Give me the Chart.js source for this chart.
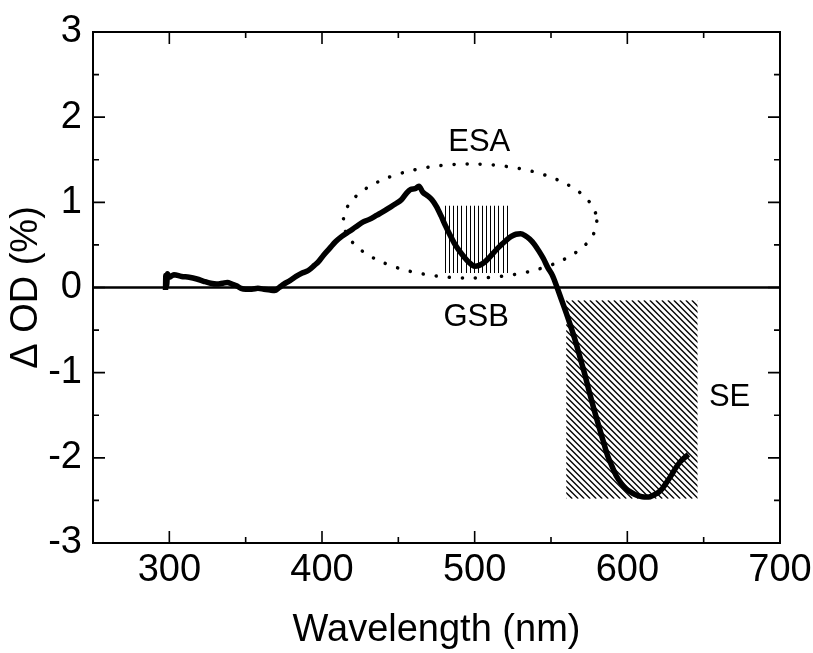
<!DOCTYPE html>
<html>
<head>
<meta charset="utf-8">
<script src="https://cdn.jsdelivr.net/npm/chart.js@4.4.1/dist/chart.umd.min.js"></script>
<style>
  html, body { margin: 0; padding: 0; background: #fff; }
  #wrap { width: 813px; height: 653px; }
</style>
</head>
<body>
<div id="wrap"><canvas id="canvas"></canvas></div>
<script>
// transient absorption spectrum
const wavelength = [297.5, 297.7, 298.2, 298.8, 300, 303, 308, 313, 318, 323, 327, 331, 335, 338, 341, 344, 347, 350, 354, 358, 362, 366, 369, 372, 375, 379, 383, 387, 391, 395, 398, 401, 405, 409, 413, 418, 422, 427, 431, 436, 440, 444, 448, 452, 455, 458, 461, 463.5, 466, 469, 472, 475, 478, 481, 484, 487, 490, 493, 496, 500, 503, 506, 509, 512, 515, 518, 521, 524, 527, 530, 533, 536, 539, 542, 545, 548, 551, 554, 557, 560, 563, 566, 569, 572, 575, 578, 581, 584, 587, 590, 593, 596, 599, 602, 605, 608, 611, 614, 617, 620, 623, 626, 629, 632, 635, 638, 640];
const deltaOD = [-0.03, 0.14, 0.02, 0.16, 0.12, 0.15, 0.13, 0.12, 0.10, 0.07, 0.05, 0.04, 0.05, 0.06, 0.04, 0.02, -0.01, -0.02, -0.02, -0.01, -0.02, -0.03, -0.035, 0.0, 0.04, 0.08, 0.13, 0.17, 0.20, 0.26, 0.31, 0.38, 0.46, 0.54, 0.60, 0.66, 0.71, 0.77, 0.80, 0.85, 0.89, 0.935, 0.98, 1.03, 1.10, 1.15, 1.16, 1.19, 1.12, 1.08, 1.03, 0.95, 0.84, 0.72, 0.61, 0.51, 0.43, 0.36, 0.30, 0.25, 0.26, 0.29, 0.34, 0.40, 0.46, 0.51, 0.56, 0.60, 0.625, 0.63, 0.61, 0.57, 0.51, 0.43, 0.34, 0.23, 0.14, 0.0, -0.15, -0.30, -0.46, -0.63, -0.82, -1.01, -1.22, -1.42, -1.61, -1.79, -1.97, -2.10, -2.22, -2.30, -2.36, -2.40, -2.43, -2.45, -2.46, -2.46, -2.44, -2.41, -2.36, -2.28, -2.20, -2.11, -2.04, -1.99, -1.96];

const zeroLineX = [250, 700];
const xTicks = [300, 400, 500, 600, 700];
const xMinor = [350, 450, 550, 650];
const yTicks = [-3, -2, -1, 0, 1, 2, 3];
const yMinor = [-2.5, -1.5, -0.5, 0.5, 1.5, 2.5];

// shaded regions in data units: [x0, x1, y0, y1]
const gsbBox = [480.5, 521, 0.17, 0.96];
const seBox = [560, 646, -2.48, -0.15];
// dotted ellipse: [cx, cy, rx, ry]
const esaEllipse = [497, 0.78, 83, 0.67];

const noteText = ['ESA', 'GSB', 'SE'];
const noteX = [503, 501, 667];
const noteY = [1.6, -0.45, -1.39];

const FONT = '"Liberation Sans", Arial, Helvetica, sans-serif';

const decor = {
  id: 'decor',
  beforeDatasetsDraw(chart) {
    const { ctx, scales: { x, y } } = chart;
    ctx.save();
    // GSB: vertical lines
    let x0 = x.getPixelForValue(gsbBox[0]), x1 = x.getPixelForValue(gsbBox[1]);
    let yt = y.getPixelForValue(gsbBox[3]), yb = y.getPixelForValue(gsbBox[2]);
    ctx.strokeStyle = '#000';
    ctx.lineWidth = 1;
    const n = 15;
    for (let i = 0; i <= n; i++) {
      const px = Math.round(x0 + (x1 - x0) * i / n) + 0.5;
      ctx.beginPath();
      ctx.moveTo(px, yt);
      ctx.lineTo(px, yb);
      ctx.stroke();
    }
    // SE: diagonal hatch
    x0 = x.getPixelForValue(seBox[0]); x1 = x.getPixelForValue(seBox[1]);
    yt = y.getPixelForValue(seBox[3]); yb = y.getPixelForValue(seBox[2]);
    ctx.beginPath();
    ctx.rect(x0, yt, x1 - x0, yb - yt);
    ctx.clip();
    ctx.lineWidth = 1.4;
    const h = yb - yt;
    for (let s = x0 - h; s < x1 + 6; s += 6) {
      ctx.beginPath();
      ctx.moveTo(s, yt);
      ctx.lineTo(s + h, yb);
      ctx.stroke();
    }
    ctx.restore();
  },
  afterDatasetsDraw(chart) {
    const { ctx, chartArea: a, scales: { x, y } } = chart;
    ctx.save();
    // ESA dotted ellipse
    const cx = x.getPixelForValue(esaEllipse[0]);
    const cy = y.getPixelForValue(esaEllipse[1]);
    const rx = x.getPixelForValue(esaEllipse[0] + esaEllipse[2]) - cx;
    const ry = cy - y.getPixelForValue(esaEllipse[1] + esaEllipse[3]);
    ctx.beginPath();
    ctx.ellipse(cx, cy, rx, ry, 0, 0, Math.PI * 2);
    ctx.setLineDash([0.1, 13]);
    ctx.lineCap = 'round';
    ctx.lineWidth = 3.5;
    ctx.strokeStyle = '#000';
    ctx.stroke();
    ctx.setLineDash([]);
    ctx.lineCap = 'butt';

    // frame
    ctx.lineWidth = 2;
    ctx.strokeRect(a.left, a.top, a.right - a.left, a.bottom - a.top);

    // inward ticks on all four sides
    const tick = (vals, len) => {
      vals.forEach(v => {
        const px = x.getPixelForValue(v);
        ctx.beginPath();
        ctx.moveTo(px, a.bottom); ctx.lineTo(px, a.bottom - len);
        ctx.moveTo(px, a.top); ctx.lineTo(px, a.top + len);
        ctx.stroke();
      });
    };
    const ytick = (vals, len) => {
      vals.forEach(v => {
        const py = y.getPixelForValue(v);
        ctx.beginPath();
        ctx.moveTo(a.left, py); ctx.lineTo(a.left + len, py);
        ctx.moveTo(a.right, py); ctx.lineTo(a.right - len, py);
        ctx.stroke();
      });
    };
    ctx.lineWidth = 1.6;
    tick(xTicks, 12); tick(xMinor, 6);
    ytick(yTicks, 12); ytick(yMinor, 6);

    // annotations
    ctx.fillStyle = '#000';
    ctx.font = '31px ' + FONT;
    ctx.textAlign = 'center';
    ctx.textBaseline = 'alphabetic';
    noteText.forEach((t, i) => {
      ctx.fillText(t, x.getPixelForValue(noteX[i]), y.getPixelForValue(noteY[i]));
    });
    ctx.restore();
  }
};

const tickFont = { family: FONT, size: 38 };

new Chart(document.getElementById('canvas'), {
  type: 'line',
  data: {
    datasets: [
      {
        data: wavelength.map((w, i) => ({ x: w, y: deltaOD[i] })),
        borderColor: '#000',
        borderWidth: 5.5,
        pointRadius: 0,
        cubicInterpolationMode: 'monotone',
        fill: false
      },
      {
        data: zeroLineX.map(v => ({ x: v, y: 0 })),
        borderColor: '#000',
        borderWidth: 2.5,
        pointRadius: 0,
        fill: false
      }
    ]
  },
  options: {
    responsive: true,
    maintainAspectRatio: false,
    animation: false,
    layout: { padding: { left: 0, right: 33, top: 32, bottom: 0 } },
    plugins: { legend: { display: false }, tooltip: { enabled: false } },
    scales: {
      x: {
        type: 'linear',
        min: 250,
        max: 700,
        grid: { display: false, drawTicks: false },
        border: { display: false },
        afterBuildTicks: s => { s.ticks = xTicks.map(v => ({ value: v })); },
        afterFit: s => { s.height = 110; s.paddingRight = 0; s.paddingLeft = 0; },
        ticks: { font: tickFont, color: '#000', padding: 5, maxRotation: 0, autoSkip: false },
        title: { display: true, text: 'Wavelength (nm)', font: tickFont, color: '#000', padding: { top: 0, bottom: 0 } }
      },
      y: {
        type: 'linear',
        min: -3,
        max: 3,
        grid: { display: false, drawTicks: false },
        border: { display: false },
        afterBuildTicks: s => { s.ticks = yTicks.map(v => ({ value: v })); },
        afterFit: s => { s.width = 93; s.paddingTop = 0; s.paddingBottom = 0; },
        ticks: { font: tickFont, color: '#000', padding: 11, autoSkip: false },
        title: { display: true, text: 'Δ OD (%)', font: tickFont, color: '#000', padding: { top: 4, bottom: 0 } }
      }
    }
  },
  plugins: [decor]
});
</script>
</body>
</html>
